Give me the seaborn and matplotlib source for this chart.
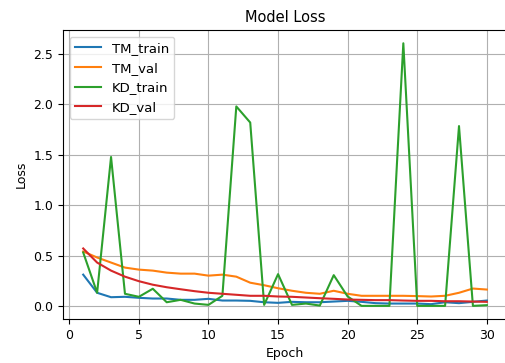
import seaborn as sns
import matplotlib.pyplot as plt
import pandas as pd

# Loss per epoch
epochs = list(range(1, 31))
tm_train = [0.31, 0.13, 0.086, 0.09, 0.08, 0.073, 0.073, 0.06, 0.06, 0.07,
            0.053, 0.053, 0.05, 0.036, 0.03, 0.04, 0.036, 0.036, 0.043, 0.05,
            0.04, 0.027, 0.023, 0.023, 0.023, 0.017, 0.036, 0.027, 0.04, 0.053]
tm_val = [0.54, 0.48, 0.43, 0.38, 0.36, 0.35, 0.33, 0.32, 0.32, 0.30,
          0.31, 0.29, 0.23, 0.205, 0.175, 0.15, 0.13, 0.12, 0.15, 0.12,
          0.10, 0.10, 0.10, 0.10, 0.097, 0.093, 0.10, 0.13, 0.172, 0.162]
kd_train = [0.53, 0.13, 1.478, 0.12, 0.09, 0.17, 0.036, 0.06, 0.023, 0.01,
            0.10, 1.98, 1.82, 0.01, 0.315, 0.01, 0.023, 0.003, 0.305, 0.093,
            0.0, 0.0, 0.0, 2.607, 0.0, 0.0, 0.0, 1.785, 0.0, 0.007]
kd_val = [0.57, 0.43, 0.35, 0.29, 0.245, 0.21, 0.185, 0.165, 0.146, 0.13,
          0.12, 0.11, 0.10, 0.10, 0.093, 0.09, 0.083, 0.076, 0.07, 0.063,
          0.06, 0.057, 0.057, 0.053, 0.05, 0.05, 0.046, 0.046, 0.043, 0.04]

series = {'TM_train': tm_train, 'TM_val': tm_val, 'KD_train': kd_train, 'KD_val': kd_val}
df = pd.concat(
    [pd.DataFrame({'Epoch': epochs, 'Loss': vals, 'Series': name}) for name, vals in series.items()],
    ignore_index=True,
)

plt.rcParams['font.size'] = 9
fig = plt.figure(figsize=(5.05, 3.63), dpi=100)
# right edge sits just past the figure, as in the cropped original
ax = fig.add_axes([0.1248, 0.1212, 0.8792, 0.7958])

sns.lineplot(data=df, x='Epoch', y='Loss', hue='Series', palette='tab10', ax=ax, linewidth=1.5)

ax.set_title('Model Loss', fontsize=10.5)
ax.set_xlabel('Epoch')
ax.set_ylabel('Loss')
ax.grid(True, color='#b0b0b0', linewidth=0.8)
ax.legend(loc='upper left', title=None, fontsize=9.5)

fig.savefig('out.png', dpi=100)
